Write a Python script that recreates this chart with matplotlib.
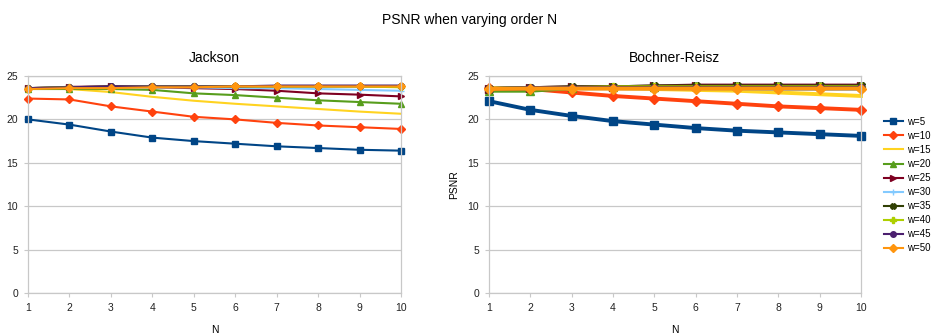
import matplotlib
matplotlib.use("Agg")
import matplotlib.pyplot as plt

plt.rcParams["font.family"] = ["Liberation Sans", "DejaVu Sans"]

# ── DATA ─────────────────────────────────────────────
N = [1, 2, 3, 4, 5, 6, 7, 8, 9, 10]
widths = ["w=5", "w=10", "w=15", "w=20", "w=25", "w=30", "w=35", "w=40", "w=45", "w=50"]

jackson = [
    [20.0, 19.4, 18.6, 17.9, 17.5, 17.2, 16.9, 16.7, 16.5, 16.4],
    [22.4, 22.3, 21.5, 20.9, 20.3, 20.0, 19.6, 19.3, 19.1, 18.9],
    [23.6, 23.5, 23.15, 22.6, 22.15, 21.8, 21.5, 21.2, 20.9, 20.65],
    [23.5, 23.5, 23.5, 23.4, 23.0, 22.8, 22.5, 22.2, 22.0, 21.8],
    [23.6, 23.75, 23.8, 23.7, 23.6, 23.5, 23.3, 23.0, 22.85, 22.65],
    [23.6, 23.7, 23.7, 23.7, 23.7, 23.6, 23.6, 23.5, 23.4, 23.3],
    [23.6, 23.7, 23.8, 23.8, 23.8, 23.8, 23.8, 23.8, 23.8, 23.8],
    [23.6, 23.7, 23.7, 23.8, 23.8, 23.8, 23.8, 23.8, 23.8, 23.7],
    [23.6, 23.7, 23.8, 23.8, 23.8, 23.8, 23.9, 23.9, 23.9, 23.9],
    [23.5, 23.6, 23.6, 23.7, 23.7, 23.8, 23.8, 23.8, 23.8, 23.8],
]

bochner = [
    [22.1, 21.1, 20.4, 19.8, 19.4, 19.0, 18.7, 18.5, 18.3, 18.1],
    [23.6, 23.5, 23.1, 22.7, 22.4, 22.1, 21.8, 21.5, 21.3, 21.1],
    [23.6, 23.6, 23.6, 23.6, 23.5, 23.4, 23.3, 23.1, 22.9, 22.7],
    [23.3, 23.3, 23.6, 23.7, 23.7, 23.8, 23.8, 23.8, 23.8, 23.8],
    [23.5, 23.6, 23.7, 23.7, 23.8, 23.9, 23.9, 23.9, 23.9, 23.9],
    [23.5, 23.6, 23.6, 23.6, 23.6, 23.6, 23.6, 23.5, 23.5, 23.5],
    [23.5, 23.6, 23.7, 23.7, 23.8, 23.8, 23.8, 23.8, 23.8, 23.8],
    [23.5, 23.6, 23.6, 23.7, 23.7, 23.7, 23.7, 23.7, 23.7, 23.7],
    [23.5, 23.6, 23.6, 23.6, 23.6, 23.6, 23.6, 23.6, 23.6, 23.6],
    [23.5, 23.55, 23.55, 23.55, 23.55, 23.55, 23.55, 23.55, 23.55, 23.55],
]

colors = ["#004586", "#ff420e", "#ffd320", "#579d1c", "#7e0021",
          "#83caff", "#314004", "#aecf00", "#4b1f6f", "#ff950e"]
markers = ["s", "D", None, "^", ">", "+", "X", "P", "o", "D"]

grid_c = "#c8c8c8"

fig = plt.figure(figsize=(9.39, 3.34), dpi=100)
ax1 = fig.add_axes([28 / 939, 1 - 293 / 334, 373 / 939, 217 / 334])
ax2 = fig.add_axes([489 / 939, 1 - 293 / 334, 372 / 939, 217 / 334])


def style(ax, title):
    ax.set_xlim(1, 10)
    ax.set_ylim(0, 25)
    ax.set_xticks(N)
    ax.set_yticks([0, 5, 10, 15, 20, 25])
    ax.yaxis.grid(True, color=grid_c, linewidth=0.9)
    ax.set_axisbelow(True)
    for s in ax.spines.values():
        s.set_color(grid_c)
        s.set_linewidth(0.9)
    ax.tick_params(length=3, color=grid_c, labelsize=7.5, labelcolor="#222222", pad=4)
    ax.set_title(title, fontsize=10, pad=10)
    ax.set_xlabel("N", fontsize=7.5, labelpad=9)


def draw(ax, data, lw, ms):
    lines = []
    for vals, lab, c, m in zip(data, widths, colors, markers):
        ln, = ax.plot(N, vals, color=c, marker=m, linewidth=lw, markersize=ms,
                      markeredgecolor=c, markerfacecolor=c, label=lab, clip_on=False)
        lines.append(ln)
    return lines


handles = draw(ax1, jackson, 1.5, 4)
draw(ax2, bochner, 2.8, 5.5)

style(ax1, "Jackson")
style(ax2, "Bochner-Reisz")
ax2.set_ylabel("PSNR", fontsize=7.5, labelpad=6)

fig.suptitle("PSNR when varying order N", fontsize=10, y=0.96)

fig.legend(handles=handles, loc="center left", bbox_to_anchor=(0.937, 0.446),
           frameon=False, fontsize=7, handlelength=2.0, handletextpad=0.4,
           labelspacing=0.42, borderaxespad=0)

plt.savefig("out.png", dpi=100)
